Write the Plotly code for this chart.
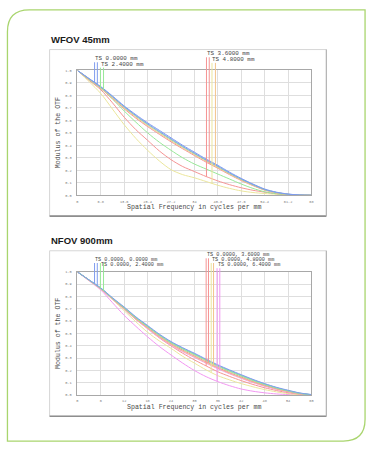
import numpy as np
import plotly.graph_objects as go

W, H = 374, 450

# ---------------- data: WFOV 45mm ----------------
wfov_freq = [0, 3.4, 6.8, 10.2, 13.6, 17.0, 20.4, 23.8, 27.2, 30.6, 34.0,
             37.4, 40.8, 44.2, 47.6, 51.0, 54.4, 57.8, 61.2, 64.6, 68.0]
wfov_tickvals = [0, 6.8, 13.6, 20.4, 27.2, 34, 40.8, 47.6, 54.4, 61.2, 68]
wfov_ticktext = ["0", "6.8", "13.6", "20.4", "27.2", "34", "40.8", "47.6", "54.4", "61.2", "68"]

wfov_f1_t = [1.0, 0.935, 0.870, 0.795, 0.715, 0.645, 0.580, 0.520, 0.460, 0.400, 0.345,
             0.290, 0.240, 0.185, 0.135, 0.090, 0.050, 0.025, 0.010, 0.002, 0.0]
wfov_f1_s = [1.0, 0.933, 0.866, 0.790, 0.710, 0.638, 0.572, 0.511, 0.451, 0.392, 0.337,
             0.283, 0.233, 0.179, 0.130, 0.086, 0.047, 0.023, 0.009, 0.002, 0.0]
wfov_f2_t = [1.0, 0.925, 0.855, 0.770, 0.675, 0.585, 0.500, 0.425, 0.360, 0.300, 0.250,
             0.210, 0.170, 0.130, 0.090, 0.055, 0.028, 0.012, 0.005, 0.001, 0.0]
wfov_f2_s = [1.0, 0.932, 0.864, 0.786, 0.705, 0.633, 0.566, 0.505, 0.445, 0.387, 0.332,
             0.278, 0.228, 0.175, 0.127, 0.084, 0.045, 0.022, 0.008, 0.002, 0.0]
wfov_f3_t = [1.0, 0.920, 0.845, 0.740, 0.625, 0.525, 0.440, 0.355, 0.285, 0.230, 0.190,
             0.150, 0.115, 0.085, 0.060, 0.040, 0.025, 0.012, 0.005, 0.001, 0.0]
wfov_f3_s = [1.0, 0.930, 0.857, 0.775, 0.692, 0.617, 0.550, 0.488, 0.428, 0.372, 0.318,
             0.265, 0.216, 0.165, 0.118, 0.077, 0.041, 0.019, 0.007, 0.001, 0.0]
wfov_f4_t = [1.0, 0.910, 0.815, 0.690, 0.565, 0.455, 0.360, 0.275, 0.205, 0.165, 0.140,
             0.110, 0.080, 0.055, 0.035, 0.022, 0.014, 0.008, 0.004, 0.001, 0.0]
wfov_f4_s = [1.0, 0.930, 0.860, 0.780, 0.700, 0.625, 0.558, 0.497, 0.437, 0.380, 0.325,
             0.272, 0.222, 0.170, 0.122, 0.080, 0.043, 0.020, 0.008, 0.002, 0.0]

wfov_labels = ["TS 0.0000 mm", "TS 2.4000 mm", "TS 3.6000 mm", "TS 4.8000 mm"]
wfov_marker_x = [[5.0, 5.8], [6.7, 7.6], [37.5, 38.3], [39.1, 40.1]]

# ---------------- data: NFOV 900mm ----------------
nfov_freq = [0, 3, 6, 9, 12, 15, 18, 21, 24, 27, 30, 33, 36, 39, 42, 45, 48, 51, 54, 57, 60]
nfov_tickvals = [0, 6, 12, 18, 24, 30, 36, 42, 48, 54, 60]
nfov_ticktext = ["0", "6", "12", "18", "24", "30", "36", "42", "48", "54", "60"]

nfov_f1_t = [1.0, 0.935, 0.870, 0.790, 0.715, 0.635, 0.565, 0.495, 0.435, 0.385, 0.340,
             0.292, 0.246, 0.205, 0.166, 0.128, 0.094, 0.064, 0.040, 0.018, 0.005]
nfov_f1_s = [1.0, 0.934, 0.868, 0.787, 0.711, 0.631, 0.560, 0.490, 0.430, 0.380, 0.335,
             0.287, 0.241, 0.200, 0.161, 0.124, 0.090, 0.061, 0.037, 0.016, 0.004]
nfov_f2_t = [1.0, 0.934, 0.867, 0.786, 0.709, 0.628, 0.557, 0.487, 0.426, 0.376, 0.331,
             0.283, 0.237, 0.196, 0.158, 0.121, 0.088, 0.059, 0.036, 0.015, 0.004]
nfov_f2_s = [1.0, 0.934, 0.866, 0.785, 0.707, 0.626, 0.555, 0.485, 0.424, 0.373, 0.328,
             0.280, 0.234, 0.193, 0.155, 0.118, 0.086, 0.057, 0.034, 0.014, 0.003]
nfov_f3_t = [1.0, 0.932, 0.862, 0.780, 0.700, 0.615, 0.540, 0.465, 0.400, 0.340, 0.286,
             0.237, 0.190, 0.152, 0.118, 0.087, 0.060, 0.038, 0.020, 0.008, 0.002]
nfov_f3_s = [1.0, 0.933, 0.864, 0.782, 0.703, 0.621, 0.549, 0.478, 0.417, 0.365, 0.319,
             0.271, 0.225, 0.184, 0.147, 0.111, 0.080, 0.053, 0.031, 0.013, 0.003]
nfov_f4_t = [1.0, 0.930, 0.860, 0.775, 0.685, 0.595, 0.510, 0.440, 0.380, 0.315, 0.260,
             0.205, 0.158, 0.124, 0.094, 0.068, 0.045, 0.027, 0.012, 0.004, 0.001]
nfov_f4_s = [1.0, 0.933, 0.863, 0.780, 0.700, 0.617, 0.544, 0.472, 0.410, 0.358, 0.312,
             0.264, 0.219, 0.178, 0.141, 0.106, 0.076, 0.050, 0.029, 0.012, 0.002]
nfov_f5_t = [1.0, 0.927, 0.853, 0.750, 0.647, 0.558, 0.473, 0.395, 0.326, 0.260, 0.200,
             0.150, 0.110, 0.077, 0.050, 0.032, 0.019, 0.010, 0.005, 0.002, 0.0]
nfov_f5_s = [1.0, 0.932, 0.861, 0.778, 0.697, 0.613, 0.539, 0.467, 0.405, 0.352, 0.306,
             0.259, 0.214, 0.173, 0.136, 0.102, 0.072, 0.047, 0.027, 0.011, 0.002]

nfov_labels = ["TS 0.0000, 0.0000 mm", "TS 0.0000, 2.4000 mm", "TS 0.0000, 3.6000 mm",
               "TS 0.0000, 4.8000 mm", "TS 0.0000, 6.4000 mm"]
nfov_marker_x = [[4.4, 5.1], [5.9, 6.7], [33.0, 33.6], [34.3, 34.9], [35.8, 36.5]]

axis_x_title = "Spatial Frequency in cycles per mm"
axis_y_title = "Modulus of the OTF"

# ---------------- styling ----------------
C_BLUE = "#7f9cee"
C_GREEN = "#98e898"
C_RED = "#f59494"
C_YEL = "#ebe69c"
C_ORG = "#f3c48c"
C_MAG = "#f296f2"
MONO = "Liberation Mono, DejaVu Sans Mono, monospace"
SANS = "Liberation Sans, Arial, sans-serif"


def px(x):
    return x / W


def py(y):
    return 1 - y / H


fig = go.Figure()

wfov_series = [
    (wfov_f4_t, C_YEL), (wfov_f3_t, C_RED), (wfov_f2_t, C_GREEN),
    (wfov_f3_s, C_RED), (wfov_f4_s, C_ORG), (wfov_f2_s, C_GREEN),
    (wfov_f1_s, C_BLUE), (wfov_f1_t, C_BLUE),
]
for vals, col in wfov_series:
    fig.add_trace(go.Scatter(x=wfov_freq, y=vals, mode="lines",
                             line=dict(color=col, width=1, shape="spline", smoothing=0.8),
                             xaxis="x", yaxis="y", hoverinfo="skip"))

nfov_series = [
    (nfov_f5_t, C_MAG), (nfov_f4_t, C_YEL), (nfov_f3_t, C_RED),
    (nfov_f5_s, C_MAG), (nfov_f4_s, C_ORG), (nfov_f3_s, C_RED),
    (nfov_f2_s, C_GREEN), (nfov_f1_s, C_BLUE), (nfov_f2_t, C_GREEN), (nfov_f1_t, C_BLUE),
]
for vals, col in nfov_series:
    fig.add_trace(go.Scatter(x=nfov_freq, y=vals, mode="lines",
                             line=dict(color=col, width=1, shape="spline", smoothing=0.8),
                             xaxis="x2", yaxis="y2", hoverinfo="skip"))

shapes = []
annotations = []

# card border (rounded top-left and bottom-right corners)
L, R, T, B, r = 6.5, 367, 8, 443, 22
card = (f"M {px(L)} {py(T + r)} Q {px(L)} {py(T)} {px(L + r)} {py(T)} "
        f"L {px(R)} {py(T)} L {px(R)} {py(B - r)} "
        f"Q {px(R)} {py(B)} {px(R - r)} {py(B)} L {px(L)} {py(B)} Z")
shapes.append(dict(type="path", path=card, xref="paper", yref="paper",
                   line=dict(color="#a9d56e", width=1.3), layer="below"))

# chart image frames
for (fx0, fy0, fx1, fy1) in [(49, 48, 328, 216), (49, 251, 328, 418)]:
    shapes.append(dict(type="rect", xref="paper", yref="paper",
                       x0=px(fx0), x1=px(fx1), y0=py(fy1), y1=py(fy0),
                       line=dict(color="#d6d6d6", width=1), fillcolor="white", layer="below"))
    shapes.append(dict(type="line", xref="paper", yref="paper",
                       x0=px(fx0), x1=px(fx1), y0=py(fy1), y1=py(fy1),
                       line=dict(color="#8e8e8e", width=1.6)))
    shapes.append(dict(type="line", xref="paper", yref="paper",
                       x0=px(fx1), x1=px(fx1), y0=py(fy1), y1=py(fy0),
                       line=dict(color="#b5b5b5", width=1.2)))

# titles
annotations.append(dict(text="<b>WFOV 45mm</b>", xref="paper", yref="paper",
                        x=px(48.5), y=py(38), xanchor="left", yanchor="middle",
                        showarrow=False, font=dict(family=SANS, size=9.5, color="#1a1a1a")))
annotations.append(dict(text="<b>NFOV 900mm</b>", xref="paper", yref="paper",
                        x=px(48.5), y=py(241), xanchor="left", yanchor="middle",
                        showarrow=False, font=dict(family=SANS, size=9.5, color="#1a1a1a")))

# axis titles (as annotations anchored to the axis domains)
titlefont = dict(family=MONO, size=6.6, color="#4a4a4a")
for xd, yd in [("x domain", "y domain"), ("x2 domain", "y2 domain")]:
    annotations.append(dict(text=axis_x_title, xref=xd, yref=yd, x=0.5, y=0,
                            yshift=-12, xanchor="center", yanchor="middle",
                            showarrow=False, font=titlefont))
    annotations.append(dict(text=axis_y_title, xref=xd, yref=yd, x=0, y=0.5,
                            xshift=-19, xanchor="center", yanchor="middle", textangle=-90,
                            showarrow=False, font=titlefont))

# legend marker lines + labels (Zemax style)
wfov_curves = [(wfov_f1_t, wfov_f1_s, C_BLUE, C_BLUE), (wfov_f2_t, wfov_f2_s, C_GREEN, C_GREEN),
               (wfov_f3_t, wfov_f3_s, C_RED, C_RED), (wfov_f4_t, wfov_f4_s, C_YEL, C_ORG)]
wfov_label_y = [1.095, 1.050, 1.133, 1.088]
wfov_line_top = [1.065, 1.022, 1.105, 1.060]
for i, (ct, cs, colt, cols) in enumerate(wfov_curves):
    for xv, curve, col in zip(wfov_marker_x[i], (ct, cs), (colt, cols)):
        yb = float(np.interp(xv, wfov_freq, curve))
        shapes.append(dict(type="line", xref="x", yref="y domain", x0=xv, x1=xv,
                           y0=yb, y1=wfov_line_top[i], line=dict(color=col, width=1)))
    annotations.append(dict(text=wfov_labels[i], xref="x", yref="y domain",
                            x=wfov_marker_x[i][0], xshift=-1.5, y=wfov_label_y[i],
                            xanchor="left", yanchor="middle", showarrow=False,
                            font=dict(family=MONO, size=5.9, color="#444")))

nfov_curves = [(nfov_f1_t, nfov_f1_s, C_BLUE, C_BLUE), (nfov_f2_t, nfov_f2_s, C_GREEN, C_GREEN),
               (nfov_f3_t, nfov_f3_s, C_RED, C_RED), (nfov_f4_t, nfov_f4_s, C_YEL, C_ORG),
               (nfov_f5_t, nfov_f5_s, C_MAG, C_MAG)]
nfov_label_y = [1.10, 1.058, 1.14, 1.10, 1.055]
nfov_line_top = [1.072, 1.072, 1.11, 1.072, 1.03]
for i, (ct, cs, colt, cols) in enumerate(nfov_curves):
    for xv, curve, col in zip(nfov_marker_x[i], (ct, cs), (colt, cols)):
        yb = float(np.interp(xv, nfov_freq, curve))
        shapes.append(dict(type="line", xref="x2", yref="y2 domain", x0=xv, x1=xv,
                           y0=yb, y1=nfov_line_top[i], line=dict(color=col, width=1)))
    annotations.append(dict(text=nfov_labels[i], xref="x2", yref="y2 domain",
                            x=nfov_marker_x[i][0], xshift=-1.5, y=nfov_label_y[i],
                            xanchor="left", yanchor="middle", showarrow=False,
                            font=dict(family=MONO, size=5.2, color="#444")))

ytickvals = [0.0, 0.1, 0.2, 0.3, 0.4, 0.5, 0.6, 0.7, 0.8, 0.9, 1.0]
yticktext = ["0.0", "0.1", "0.2", "0.3", "0.4", "0.5", "0.6", "0.7", "0.8", "0.9", "1.0"]

tickfont = dict(family=MONO, size=3.6, color="#777777")
common_x = dict(showgrid=True, gridcolor="#dedede", gridwidth=1, zeroline=False,
                showline=True, linecolor="#a8a8a8", linewidth=1, mirror=True, ticks="",
                tickfont=tickfont, ticklabelstandoff=2)
common_y = dict(showgrid=True, gridcolor="#dedede", gridwidth=1, zeroline=False,
                showline=True, linecolor="#a8a8a8", linewidth=1, mirror=True, ticks="",
                tickfont=tickfont, ticklabelstandoff=4, range=[0, 1],
                tickvals=ytickvals, ticktext=yticktext)

fig.update_layout(
    width=W, height=H,
    margin=dict(l=0, r=0, t=0, b=0),
    paper_bgcolor="white", plot_bgcolor="white",
    showlegend=False,
    xaxis=dict(common_x, domain=[px(77), px(313)], range=[0, 68], anchor="y",
               tickvals=wfov_tickvals, ticktext=wfov_ticktext),
    yaxis=dict(common_y, domain=[py(195), py(69)], anchor="x"),
    xaxis2=dict(common_x, domain=[px(77), px(313)], range=[0, 60], anchor="y2",
                tickvals=nfov_tickvals, ticktext=nfov_ticktext),
    yaxis2=dict(common_y, domain=[py(396.7), py(272.3)], anchor="x2"),
    shapes=shapes,
    annotations=annotations,
)

fig.write_html("out.html", config={"displayModeBar": False},
               post_script="document.body.style.margin='0';document.body.style.padding='0';")
